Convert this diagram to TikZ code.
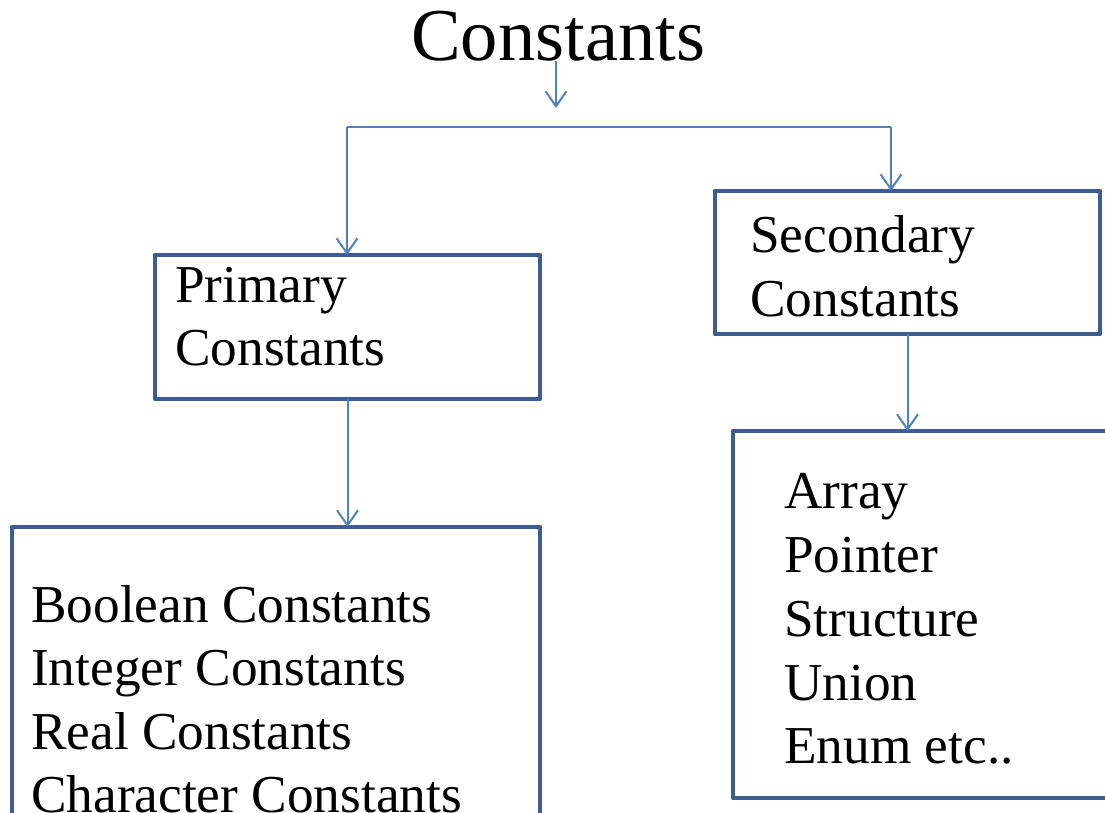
\documentclass[tikz,border=0pt]{standalone}
\usepackage{fontspec}
\setmainfont{Liberation Serif}
\newfontfamily\boxserif{Liberation Serif}
\usetikzlibrary{arrows.meta}
\definecolor{boxblue}{RGB}{59,94,140}
\definecolor{linkblue}{RGB}{79,129,189}
\tikzset{
  boxnode/.style={draw=boxblue, line width=4.5bp, rectangle, inner sep=0pt,
                  outer sep=0pt, anchor=north west, line join=round},
  conn/.style={draw=linkblue, line width=2bp},
  arr/.style={conn, -{Straight Barb[length=15bp,width=21bp,line width=2bp]}},
  txt/.style={anchor=base west, inner sep=0pt, font=\boxserif\fontsize{53.3bp}{63bp}\selectfont},
  ttl/.style={anchor=base west, inner sep=0pt, font=\boxserif\fontsize{74.5bp}{88bp}\selectfont}
}
\begin{document}
\begin{tikzpicture}[x=1bp,y=-1bp]
  \useasboundingbox[fill=white] (0,0) rectangle (1105,813);

  % title
  \node[ttl] (title) at (411,61) {Constants};

  % boxes
  \node[boxnode, minimum width=385bp, minimum height=144bp] (prim) at (155,255) {};
  \node[boxnode, minimum width=385bp, minimum height=143bp] (sec) at (715,191) {};
  \node[boxnode, minimum width=528bp, minimum height=320bp] (bl) at (12,527) {};
  \node[boxnode, minimum width=420bp, minimum height=367bp] (br) at (733,431) {};

  % box texts
  \node[txt] (p1) at (175,302) {Primary};
  \node[txt] (p2) at (175,365) {Constants};
  \node[txt] (s1) at (750,252) {Secondary};
  \node[txt] (s2) at (750,316) {Constants};
  \node[txt] (b1) at (31,622) {Boolean Constants};
  \node[txt] (b2) at (31,685) {Integer Constants};
  \node[txt] (b3) at (31,749) {Real Constants};
  \node[txt] (b4) at (31,812) {Character Constants};
  \node[txt] (r1) at (784,508) {Array};
  \node[txt] (r2) at (784,572) {Pointer};
  \node[txt] (r3) at (784,636) {Structure};
  \node[txt] (r4) at (784,700) {Union};
  \node[txt] (r5) at (784,763) {Enum etc..};

  % connectors
  \coordinate (tdown) at (556,108);
  \coordinate (hl) at (347,127);
  \coordinate (hr) at (891,127);
  \draw[arr] (title.base -| tdown) -- (tdown);
  \draw[conn] (hl) -- (hr);
  \draw[arr] (hl) -- (hl |- prim.north);
  \draw[arr] (hr) -- (hr |- sec.north);
  \draw[arr] (prim.south) -- (prim.south |- bl.north);
  \draw[arr] (sec.south) -- (sec.south |- br.north);
\end{tikzpicture}
\end{document}
